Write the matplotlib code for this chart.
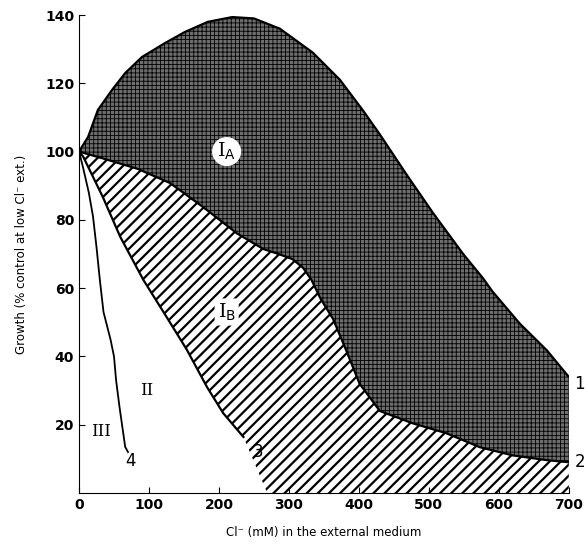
import matplotlib.pyplot as plt

# curve 1 (upper edge of region IA)
upper_x = [0, 13, 27, 47, 66, 90, 123, 151, 184, 219, 250, 287, 334, 373, 406, 430, 469, 506, 549, 577, 591, 630, 669, 700]
upper_y = [100, 104.3, 112.2, 118, 123, 127.7, 131.8, 135, 138, 139.4, 139, 136, 129, 121, 112, 105, 93, 82, 70, 63, 59, 49.6, 41.7, 34]

# curve 2 (boundary IA / IB)
mid_x = [0, 34, 83, 130, 177, 226, 263, 285, 305, 320, 332, 345, 363, 382, 401, 430, 477, 525, 573, 620, 669, 700]
mid_y = [100, 98, 95, 90.8, 83.8, 76, 71.5, 70, 68.5, 66, 62.5, 57, 51, 41.7, 32, 24, 20.4, 17.5, 13.4, 11, 9.6, 9]

# curve 3 (lower edge of region IB)
line3_x = [0, 6, 34, 59, 92, 125, 154, 183, 206, 235, 269]
line3_y = [100, 98.5, 86.7, 75, 62.4, 51.6, 42, 31, 23.4, 16.4, 0]

# curve 4
line4_x = [0, 5, 14, 20, 25, 30, 35, 45, 50, 53, 58, 66, 70]
line4_y = [100, 96, 88, 81, 72, 62, 53, 45, 40, 33, 25, 13.5, 12]

x_ticks = [0, 100, 200, 300, 400, 500, 600, 700]
y_ticks = [20, 40, 60, 80, 100, 120, 140]

fig = plt.figure(figsize=(5.87, 5.48), dpi=100)
ax = fig.add_axes([0.1346, 0.1004, 0.8344, 0.8722])

# region IA - fine cross hatching
plt.rcParams['hatch.linewidth'] = 0.6
ia_x = upper_x + mid_x[::-1]
ia_y = upper_y + mid_y[::-1]
ax.fill(ia_x, ia_y, facecolor='#6e6e6e', edgecolor='black', hatch='++++', linewidth=0)

# region IB - diagonal hatching
plt.rcParams['hatch.linewidth'] = 1.6
ib_x = mid_x + [700] + line3_x[::-1]
ib_y = mid_y + [0] + line3_y[::-1]
ax.fill(ib_x, ib_y, facecolor='white', edgecolor='black', hatch='///', linewidth=0)

ax.plot(upper_x, upper_y, color='black', lw=1.6)
ax.plot([700, 700], [upper_y[-1], mid_y[-1]], color='#444444', lw=1.0)
ax.plot(mid_x, mid_y, color='black', lw=1.6)
ax.plot(line3_x[:-1], line3_y[:-1], color='black', lw=1.6)
ax.plot(line4_x, line4_y, color='black', lw=1.3)

serif = 'DejaVu Serif'
ax.text(211, 100, r'I$_\mathrm{A}$', family=serif, fontsize=14, ha='center', va='center',
        bbox=dict(boxstyle='circle,pad=0.2', fc='white', ec='none'))
ax.text(211, 53, r'I$_\mathrm{B}$', family=serif, fontsize=14, ha='center', va='center',
        bbox=dict(boxstyle='round,pad=0.15', fc='white', ec='none'))
ax.text(97, 30, 'II', family=serif, fontsize=12, ha='center', va='center')
ax.text(31, 18, 'III', family=serif, fontsize=12, ha='center', va='center')
ax.text(707, 32, '1', fontsize=12, ha='left', va='center')
ax.text(709, 9, '2', fontsize=12, ha='left', va='center')
ax.text(256, 12, '3', fontsize=12, ha='center', va='center')
ax.text(73, 9.5, '4', fontsize=12, ha='center', va='center')

ax.set_xlim(0, 700)
ax.set_ylim(0, 140)
ax.set_xticks(x_ticks)
ax.set_yticks(y_ticks)
ax.tick_params(direction='in', length=4, labelsize=10)
for lab in ax.get_xticklabels() + ax.get_yticklabels():
    lab.set_fontweight('bold')
ax.spines['top'].set_visible(False)
ax.spines['right'].set_visible(False)
ax.set_xlabel('Cl⁻ (mM) in the external medium', fontsize=8.5, labelpad=10)
ax.set_ylabel('Growth (% control at low Cl⁻ ext.)', fontsize=8.5, labelpad=12)

fig.savefig('out.png', dpi=100)
